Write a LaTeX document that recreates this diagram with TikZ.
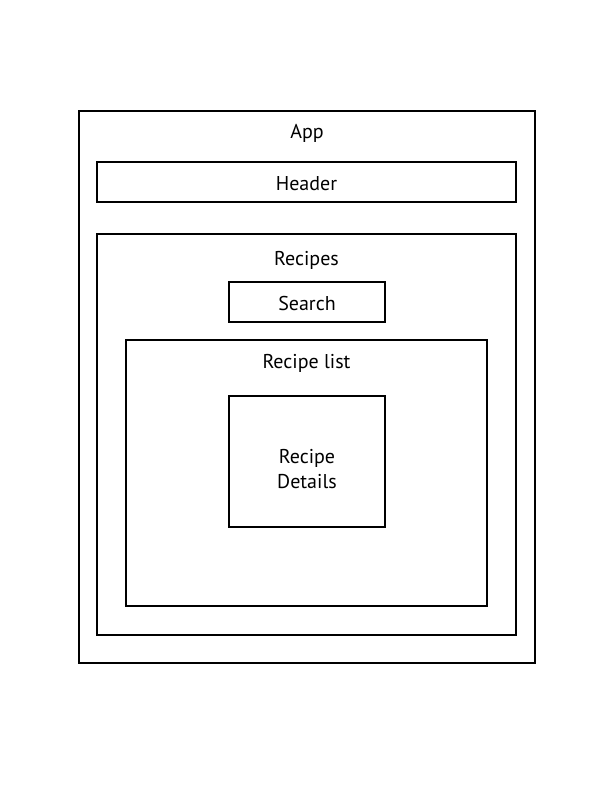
\documentclass[tikz,border=0pt]{standalone}
\usepackage{fontspec}
\setmainfont{PT Sans}
\begin{document}
\begin{tikzpicture}[x=1pt,y=-1pt,
  comp/.style={draw=black,line width=1.8pt},
  lbl/.style={font=\fontsize{20}{25}\selectfont,inner sep=0pt,align=center}]
\useasboundingbox (0,0) rectangle (612,792);
\fill[white] (0,0) rectangle (612,792);
\draw[comp] (79,111) rectangle (535,663);
\node[lbl] (app) at (307,133) {App};
\draw[comp] (97,162) rectangle (516,202);
\node[lbl] (header) at (306.5,184) {Header};
\draw[comp] (97,234) rectangle (516,635);
\node[lbl] (recipes) at (306.5,260) {Recipes};
\draw[comp] (229,282) rectangle (385,322);
\node[lbl] (search) at (307,303) {Search};
\draw[comp] (126,340) rectangle (487,606);
\node[lbl] (list) at (306.5,363) {Recipe list};
\draw[comp] (229,396) rectangle (385,527);
\node[lbl] (details) at (307,469) {Recipe\\Details};
\end{tikzpicture}
\end{document}
